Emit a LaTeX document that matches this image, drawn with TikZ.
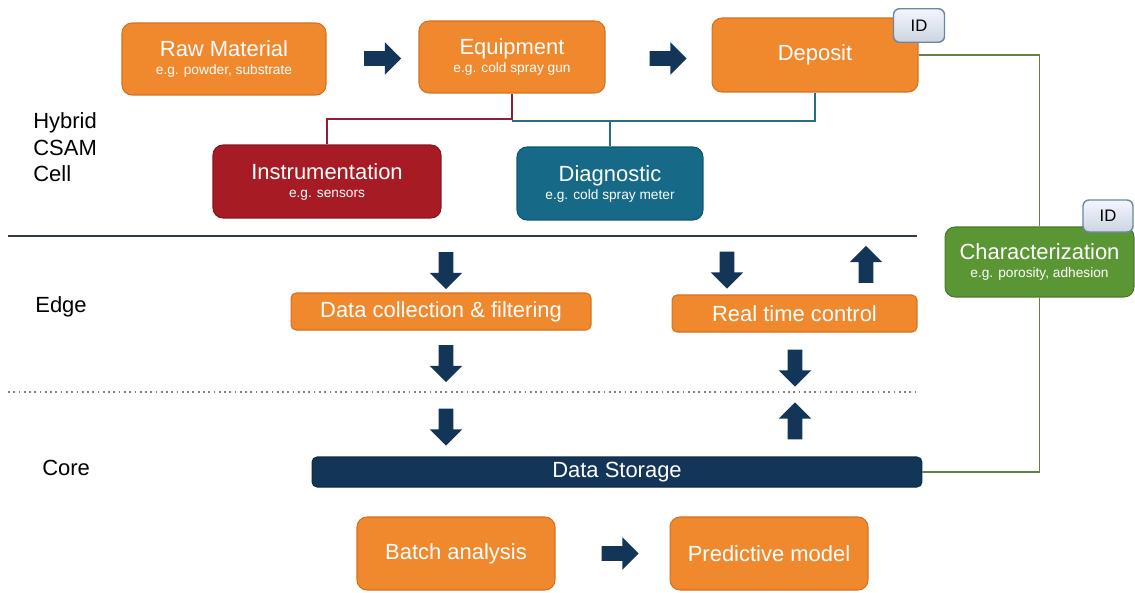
\documentclass[tikz,border=0pt]{standalone}
\usepackage{fontspec}
\setmainfont{Liberation Sans}
\usetikzlibrary{shapes.arrows}
\definecolor{cs_orange}{RGB}{240,136,46}
\definecolor{cs_orange_dk}{RGB}{214,112,30}
\definecolor{cs_red}{RGB}{166,27,36}
\definecolor{cs_teal}{RGB}{22,106,135}
\definecolor{cs_green}{RGB}{90,150,52}
\definecolor{cs_navy}{RGB}{19,54,88}
\definecolor{cs_redline}{RGB}{140,32,52}
\definecolor{cs_tealline}{RGB}{40,110,130}
\definecolor{cs_greenline}{RGB}{98,128,72}
\definecolor{cs_idline}{RGB}{105,135,165}
\tikzstyle{box}=[rectangle,rounded corners=0.2cm,line width=0.6pt,text=white,
  align=center,inner sep=2pt,font=\fontsize{7.8}{10.2}\selectfont]
\tikzstyle{ob}=[box,fill=cs_orange,draw=cs_orange_dk]
\tikzstyle{rb}=[box,fill=cs_red,draw=cs_red!80!black]
\tikzstyle{tb}=[box,fill=cs_teal,draw=cs_teal!80!black]
\tikzstyle{gb}=[box,fill=cs_green,draw=cs_green!80!black]
\tikzstyle{nb}=[box,fill=cs_navy,draw=cs_navy!80!black,rounded corners=0.1cm]
\tikzstyle{idb}=[rectangle,rounded corners=0.12cm,draw=cs_idline,line width=0.8pt,
  top color=blue!4!white,bottom color=cs_idline!35!white,
  minimum width=1.02cm,minimum height=0.67cm,font=\fontsize{9.5}{11}\selectfont]
\tikzstyle{blk}=[single arrow,fill=cs_navy,inner sep=0.14cm,minimum height=0.74cm,
  minimum width=0.64cm,single arrow head extend=0.18cm]
\tikzstyle{layer}=[anchor=base west,inner sep=0pt,font=\fontsize{12.5}{15}\selectfont]
\newcommand{\ttl}[1]{{\fontsize{12.5}{15}\selectfont #1}}

\begin{document}
\begin{tikzpicture}[x=0.02cm,y=-0.02cm]
    \useasboundingbox (0,0) rectangle (1135,592);
    % cell level
    \node [style=ob,minimum width=4.08cm,minimum height=1.44cm] (raw) at (224,59)
      {\ttl{Raw Material}\\e.g. powder, substrate};
    \node [style=ob,minimum width=3.72cm,minimum height=1.44cm] (equip) at (512,57)
      {\ttl{Equipment}\\e.g. cold spray gun};
    \node [style=ob,minimum width=4.12cm,minimum height=1.48cm] (dep) at (815,55)
      {\ttl{Deposit}};
    \node [style=idb] (depid) at (919,25.5) {ID};
    \node [style=rb,minimum width=4.56cm,minimum height=1.46cm] (instr) at (327,181.5)
      {\ttl{Instrumentation}\\e.g. sensors};
    \node [style=tb,minimum width=3.72cm,minimum height=1.46cm] (diag) at (610,183.5)
      {\ttl{Diagnostic}\\e.g. cold spray meter};
    \node [style=gb,minimum width=3.78cm,minimum height=1.40cm] (charac) at (1039.5,262)
      {\ttl{Characterization}\\e.g. porosity, adhesion};
    \node [style=idb,minimum width=1.0cm,minimum height=0.64cm] (charid) at (1108,216) {ID};
    \node [style=blk] (a1) at (379,58.5) {};
    \node [style=blk] (a2) at (664.5,58.5) {};
    % edge and core
    \node [style=ob,rounded corners=0.1cm,minimum width=6cm,minimum height=0.74cm] (collect)
      at (441,311.5) {\ttl{Data collection \& filtering}};
    \node [style=ob,rounded corners=0.1cm,minimum width=4.9cm,minimum height=0.74cm] (rtc)
      at (794.5,313.5) {\ttl{Real time control}};
    \node [style=nb,minimum width=12.2cm,minimum height=0.6cm] (store) at (617,472)
      {\ttl{Data Storage}};
    \node [style=ob,minimum width=3.96cm,minimum height=1.46cm] (batch) at (456,553.5)
      {\ttl{Batch analysis}};
    \node [style=ob,minimum width=3.96cm,minimum height=1.46cm] (pred) at (769,553.5)
      {\ttl{Predictive model}};
    \node [style=blk] (a3) at (616.5,553.5) {};
    \node [style=blk,rotate=-90] (d1) at (446,267) {};
    \node [style=blk,rotate=-90] (d2) at (446,360) {};
    \node [style=blk,rotate=-90] (d3) at (446,423.5) {};
    \node [style=blk,rotate=-90] (d4) at (727,266.5) {};
    \node [style=blk,rotate=90] (u1) at (866,268) {};
    \node [style=blk,rotate=-90] (d5) at (795,364.5) {};
    \node [style=blk,rotate=90] (u2) at (795,424.5) {};
    % layer names
    \node [style=layer] (hyb) at (33,128) {Hybrid};
    \node [style=layer] (csam) at (33,155) {CSAM};
    \node [style=layer] (cell) at (33,181.5) {Cell};
    \node [style=layer] (edge) at (35,312) {Edge};
    \node [style=layer] (core) at (42,475) {Core};
    \draw [draw=black!55!cs_idline,line width=1pt] (8,236) to (917,236);
    \draw [draw=black!50,line width=1pt,dotted] (8,392) to (917,392);
    % links
    \coordinate (jr) at (512,119);
    \coordinate (jt) at (512,121);
    \draw [draw=cs_redline,line width=1pt] (equip.south) to (jr) -| (instr.north);
    \draw [draw=cs_tealline,line width=1pt] (jt) -| (dep.south);
    \draw [draw=cs_tealline,line width=1pt] (diag.north) |- (jt);
    \draw [draw=cs_greenline,line width=1pt] (dep.east) -| (charac.north);
    \draw [draw=cs_greenline,line width=1pt] (charac.south) |- (store.east);
  \end{tikzpicture}
\end{document}
